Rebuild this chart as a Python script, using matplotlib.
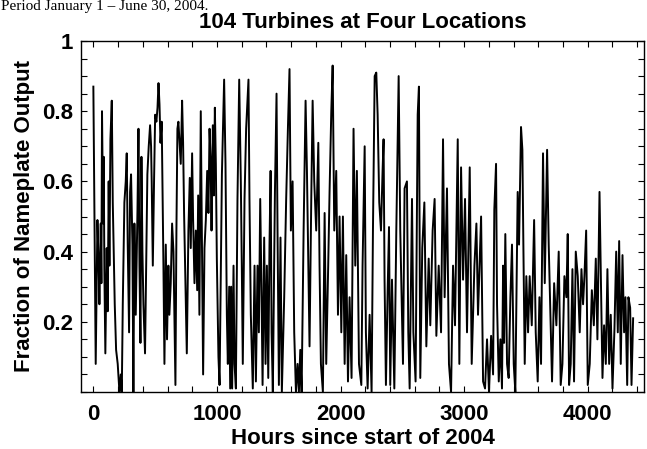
import matplotlib
matplotlib.use("Agg")
import matplotlib.pyplot as plt
from matplotlib.ticker import FixedLocator, MultipleLocator

# Turning points (hour, fraction of nameplate output)
hours = [0, 19, 33, 43, 49, 60, 65, 70, 79, 84, 89, 97, 108, 116, 124, 130, 138, 149, 157, 165,
         173, 184, 197, 211, 222, 230, 238, 251, 262, 270, 278, 289, 297, 305, 316, 324, 332, 343, 357, 365,
         373, 381, 389, 397, 405, 418, 429, 437, 448, 459, 467, 472, 481, 491, 500, 510, 519, 527, 535, 543,
         553, 567, 575, 586, 596, 607, 615, 626, 637, 648, 664, 672, 680, 688, 696, 707, 718, 726, 734, 742,
         756, 769, 780, 788, 799, 807, 818, 829, 840, 848, 858, 869, 880, 888, 899, 910, 921, 931, 940, 948,
         956, 967, 975, 983, 991, 999, 1012, 1021, 1040, 1058, 1069, 1080, 1088, 1099, 1107, 1115, 1123, 1134, 1142, 1153,
         1166, 1180, 1193, 1201, 1209, 1223, 1236, 1255, 1263, 1274, 1290, 1304, 1315, 1328, 1339, 1350, 1361, 1369, 1382, 1393,
         1404, 1415, 1425, 1434, 1442, 1452, 1469, 1482, 1490, 1501, 1514, 1525, 1544, 1560, 1574, 1587, 1598, 1612, 1625, 1639,
         1652, 1663, 1674, 1685, 1701, 1717, 1728, 1739, 1749, 1763, 1774, 1787, 1803, 1820, 1830, 1841, 1857, 1871, 1884, 1900,
         1911, 1925, 1936, 1949, 1965, 1979, 1992, 2006, 2019, 2033, 2046, 2060, 2073, 2089, 2105, 2119, 2132, 2149, 2168, 2178,
         2195, 2205, 2219, 2235, 2251, 2262, 2276, 2289, 2300, 2313, 2327, 2340, 2348, 2356, 2367, 2381, 2392, 2402, 2416, 2435,
         2451, 2470, 2483, 2494, 2505, 2518, 2537, 2548, 2559, 2578, 2589, 2607, 2624, 2634, 2645, 2661, 2678, 2694, 2713, 2726,
         2745, 2761, 2775, 2794, 2813, 2829, 2842, 2861, 2877, 2894, 2910, 2926, 2948, 2961, 2975, 2991, 3007, 3023, 3045, 3061,
         3083, 3099, 3112, 3137, 3153, 3169, 3185, 3201, 3218, 3234, 3244, 3258, 3266, 3280, 3293, 3306, 3315, 3323, 3333, 3347,
         3360, 3374, 3387, 3401, 3414, 3425, 3433, 3444, 3460, 3471, 3479, 3490, 3503, 3517, 3530, 3547, 3566, 3579, 3595, 3609,
         3622, 3638, 3652, 3671, 3684, 3698, 3711, 3728, 3746, 3765, 3781, 3795, 3811, 3827, 3838, 3849, 3862, 3876, 3889, 3903,
         3919, 3935, 3949, 3962, 3973, 3987, 4000, 4016, 4033, 4049, 4065, 4078, 4095, 4108, 4119, 4132, 4146, 4159, 4173, 4186,
         4200, 4216, 4230, 4243, 4254, 4267, 4281, 4294, 4305, 4319, 4329, 4343, 4354, 4367]
output = [0.87, 0.08, 0.49, 0.36, 0.25, 0.48, 0.31, 0.80, 0.48, 0.67, 0.35, 0.11, 0.41, 0.23, 0.60, 0.36, 0.72, 0.83, 0.54, 0.40,
          0.25, 0.12, 0.08, 0.00, 0.05, 0.00, 0.25, 0.54, 0.60, 0.68, 0.42, 0.17, 0.57, 0.62, 0.42, 0.00, 0.48, 0.22, 0.52, 0.75,
          0.36, 0.14, 0.67, 0.40, 0.25, 0.11, 0.41, 0.62, 0.70, 0.76, 0.70, 0.60, 0.36, 0.60, 0.79, 0.77, 0.81, 0.88, 0.82, 0.71,
          0.77, 0.36, 0.08, 0.42, 0.15, 0.36, 0.22, 0.31, 0.48, 0.40, 0.02, 0.46, 0.75, 0.77, 0.72, 0.65, 0.83, 0.71, 0.51, 0.36,
          0.11, 0.46, 0.61, 0.41, 0.68, 0.49, 0.31, 0.46, 0.29, 0.56, 0.22, 0.80, 0.36, 0.05, 0.41, 0.49, 0.63, 0.51, 0.75, 0.67,
          0.46, 0.76, 0.56, 0.81, 0.65, 0.38, 0.10, 0.02, 0.62, 0.89, 0.65, 0.22, 0.08, 0.30, 0.01, 0.30, 0.01, 0.36, 0.08, 0.01,
          0.55, 0.89, 0.60, 0.36, 0.08, 0.55, 0.75, 0.89, 0.55, 0.22, 0.01, 0.36, 0.03, 0.36, 0.17, 0.55, 0.27, 0.02, 0.44, 0.08,
          0.36, 0.04, 0.42, 0.63, 0.17, 0.00, 0.57, 0.85, 0.46, 0.02, 0.44, 0.00, 0.27, 0.55, 0.75, 0.92, 0.46, 0.60, 0.17, 0.00,
          0.08, 0.00, 0.12, 0.00, 0.46, 0.83, 0.63, 0.36, 0.13, 0.55, 0.83, 0.60, 0.46, 0.71, 0.36, 0.08, 0.00, 0.51, 0.08, 0.36,
          0.57, 0.80, 0.93, 0.46, 0.63, 0.22, 0.50, 0.17, 0.50, 0.08, 0.39, 0.03, 0.27, 0.04, 0.75, 0.36, 0.63, 0.08, 0.02, 0.36,
          0.70, 0.17, 0.01, 0.22, 0.00, 0.46, 0.90, 0.91, 0.79, 0.54, 0.46, 0.63, 0.72, 0.32, 0.02, 0.29, 0.47, 0.02, 0.32, 0.01,
          0.46, 0.90, 0.46, 0.27, 0.08, 0.58, 0.60, 0.17, 0.01, 0.55, 0.17, 0.03, 0.79, 0.87, 0.04, 0.41, 0.54, 0.13, 0.38, 0.19,
          0.46, 0.55, 0.16, 0.36, 0.17, 0.72, 0.27, 0.58, 0.08, 0.00, 0.36, 0.19, 0.72, 0.08, 0.64, 0.32, 0.55, 0.17, 0.64, 0.08,
          0.36, 0.48, 0.22, 0.50, 0.03, 0.01, 0.15, 0.00, 0.16, 0.05, 0.52, 0.65, 0.25, 0.03, 0.15, 0.01, 0.36, 0.14, 0.45, 0.08,
          0.04, 0.27, 0.42, 0.08, 0.00, 0.32, 0.57, 0.42, 0.755, 0.69, 0.42, 0.08, 0.33, 0.17, 0.33, 0.19, 0.49, 0.17, 0.03, 0.27,
          0.08, 0.68, 0.31, 0.69, 0.42, 0.22, 0.03, 0.31, 0.19, 0.40, 0.02, 0.08, 0.33, 0.27, 0.45, 0.02, 0.08, 0.35, 0.03, 0.40,
          0.33, 0.17, 0.35, 0.25, 0.33, 0.46, 0.02, 0.08, 0.29, 0.19, 0.38, 0.15, 0.57, 0.29, 0.04, 0.19, 0.08, 0.35, 0.08, 0.22,
          0.01, 0.18, 0.40, 0.17, 0.43, 0.08, 0.39, 0.17, 0.27, 0.02, 0.27, 0.24, 0.02, 0.21]

x_ticks = [0, 1000, 2000, 3000, 4000]
y_ticks = [0.2, 0.4, 0.6, 0.8, 1.0]
y_tick_labels = ["0.2", "0.4", "0.6", "0.8", "1"]

title = "104 Turbines at Four Locations"
x_label = "Hours since start of 2004"
y_label = "Fraction of Nameplate Output"
top_note = "Period January 1 \u2013 June 30, 2004."

plt.rcParams['font.family'] = ['Liberation Sans', 'DejaVu Sans']

fig = plt.figure(figsize=(6.47, 4.49), dpi=100)
ax = fig.add_axes([81 / 647, 57 / 449, 563 / 647, 351 / 449])

ax.plot(hours, output, color='black', linewidth=1.4)

ax.set_xlim(-100, 4455)
ax.set_ylim(0, 1)

ax.xaxis.set_major_locator(FixedLocator(x_ticks))
ax.xaxis.set_minor_locator(MultipleLocator(200))
ax.yaxis.set_major_locator(FixedLocator(y_ticks))
ax.yaxis.set_minor_locator(MultipleLocator(0.05))
ax.set_yticklabels(y_tick_labels)

ax.tick_params(which='both', direction='in', top=True, right=True, width=0.8)
ax.tick_params(which='major', length=4, labelsize=16)
ax.tick_params(axis='x', which='major', pad=9)
ax.tick_params(axis='y', which='major', pad=6)
ax.tick_params(which='minor', length=4)
for lbl in ax.get_xticklabels() + ax.get_yticklabels():
    lbl.set_fontweight('bold')
for sp in ax.spines.values():
    sp.set_linewidth(1.0)

ax.set_title(title, fontsize=16, fontweight='bold', pad=9)
ax.set_xlabel(x_label, fontsize=16, fontweight='bold', labelpad=2)
ax.set_ylabel(y_label, fontsize=16, fontweight='bold', labelpad=5)

fig.text(1 / 647, 1 - 10 / 449, top_note, fontsize=11, family=['Liberation Serif', 'DejaVu Serif'],
         ha='left', va='baseline')

fig.savefig("out.png", dpi=100)
